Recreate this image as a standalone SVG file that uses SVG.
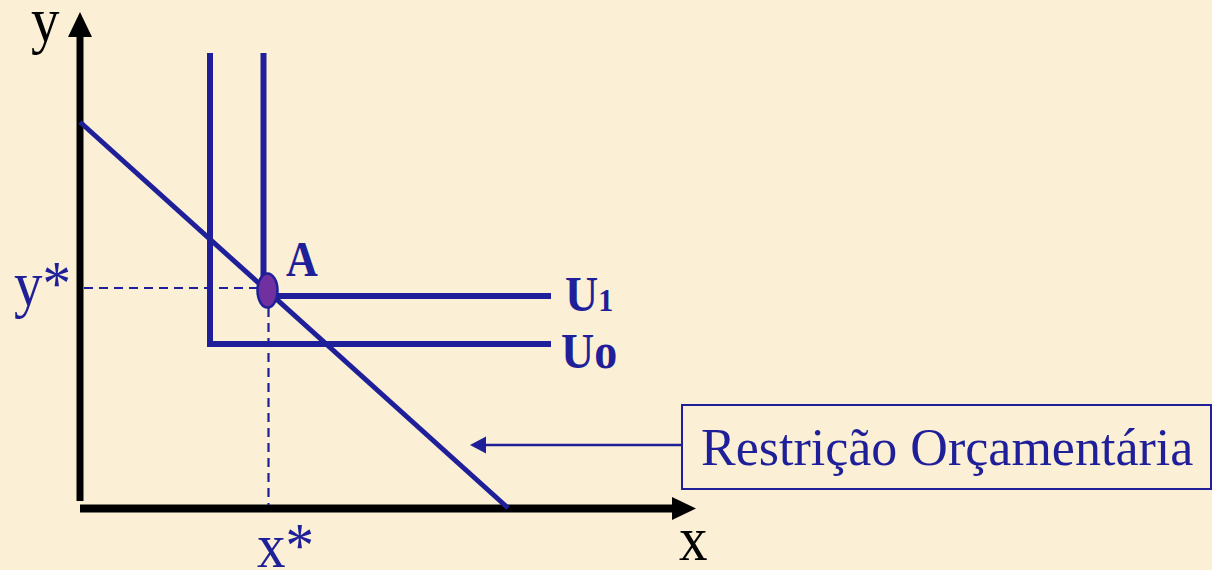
<svg xmlns="http://www.w3.org/2000/svg" width="1212" height="570" viewBox="0 0 1212 570">
  <style>
    .ax { stroke: #000; fill: none; }
    .blue { stroke: #1F1F99; fill: none; }
    .dash { stroke: #1F1F99; stroke-width: 2.2; stroke-dasharray: 9 6; fill: none; }
    .lbl { font-family: "Liberation Serif", "Times New Roman", serif; }
    .bl { fill: #1F1F99; }
    .bk { fill: #000; }
  </style>
  <rect width="1212" height="570" fill="#FBF0D5"/>

  <g id="connectors">
    <g id="y-axis">
      <line class="ax" x1="80" y1="501" x2="80" y2="34" stroke-width="7"/>
      <polygon points="80,12 68,37 92,37" fill="#000"/>
    </g>
    <g id="x-axis">
      <line class="ax" x1="80" y1="508.5" x2="675" y2="508.5" stroke-width="8"/>
      <polygon points="696,508.5 672,497 672,520" fill="#000"/>
    </g>
    <line id="budget-line" class="blue" x1="80" y1="122" x2="508" y2="508" stroke-width="5"/>
    <path id="U0-curve" class="blue" d="M210,53 V344 H551" stroke-width="6"/>
    <path id="U1-curve" class="blue" d="M263.5,53 V296 H551" stroke-width="6"/>
    <line class="dash" x1="84" y1="288" x2="258" y2="288"/>
    <line class="dash" x1="268.5" y1="308" x2="268.5" y2="505"/>
    <g id="leader">
      <line class="blue" x1="681" y1="445" x2="484" y2="445" stroke-width="2.5"/>
      <polygon points="470,445 486,436.5 486,453.5" fill="#1F1F99"/>
    </g>
  </g>

  <g id="point-A">
    <ellipse cx="267.5" cy="290.5" rx="10" ry="17" fill="#7030A0" stroke="#1F1F99" stroke-width="2.5"/>
    <text class="lbl bl" font-weight="bold" font-size="44" transform="translate(286,276) scale(1,1.13)">A</text>
  </g>

  <g id="label-U1">
    <text class="lbl bl" font-weight="bold" font-size="46" transform="translate(565,311) scale(1,1.08)">U<tspan font-size="30">1</tspan></text>
  </g>
  <g id="label-U0">
    <text class="lbl bl" font-weight="bold" font-size="46" transform="translate(561,368) scale(1,1.08)">Uo</text>
  </g>

  <g id="label-ystar">
    <text class="lbl bl" font-size="57" transform="translate(14,305) scale(1,1.1)">y*</text>
  </g>
  <g id="label-xstar">
    <text class="lbl bl" font-size="57" transform="translate(257,567) scale(1,1.1)">x*</text>
  </g>
  <g id="label-y">
    <text class="lbl bk" font-size="57" transform="translate(31,41) scale(1,1.1)">y</text>
  </g>
  <g id="label-x">
    <text class="lbl bk" font-size="57" transform="translate(679,560) scale(1,1.1)">x</text>
  </g>

  <g id="budget-box">
    <rect x="682" y="405" width="529" height="84" fill="none" stroke="#1F1F99" stroke-width="2"/>
    <text class="lbl bl" font-size="52" x="701" y="465">Restrição Orçamentária</text>
  </g>
</svg>
